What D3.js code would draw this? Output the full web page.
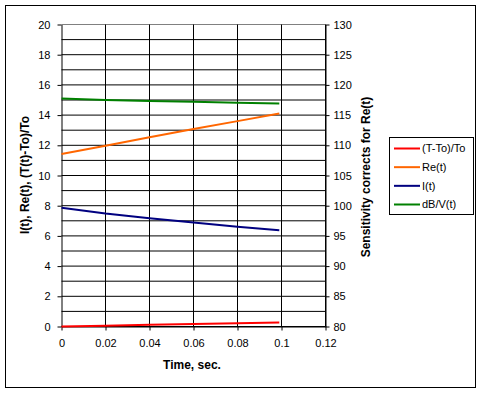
<!DOCTYPE html>
<html>
<head>
<meta charset="utf-8">
<script src="https://cdn.jsdelivr.net/npm/d3@7"></script>
<style>
  html, body { margin: 0; padding: 0; background: #fff; }
  svg { display: block; font-family: "Liberation Sans", Arial, sans-serif; }
</style>
</head>
<body>
<svg id="chart" width="483" height="393"></svg>
<script>
// ---- Data ----
const time = [0, 0.02, 0.04, 0.06, 0.08, 0.099];
const tempRise = [0, 0.055, 0.11, 0.165, 0.22, 0.27];        // (T-To)/To, left axis
const resistance = [11.42, 11.97, 12.53, 13.08, 13.60, 14.10]; // Re(t), left axis
const current = [7.86, 7.48, 7.17, 6.89, 6.61, 6.38];         // I(t), left axis
const sensitivity = [117.75, 117.5, 117.33, 117.2, 117.05, 116.93]; // dB/V(t), right axis

const xTicks = [0, 0.02, 0.04, 0.06, 0.08, 0.1, 0.12];
const yLeftTicks = [0, 2, 4, 6, 8, 10, 12, 14, 16, 18, 20];
const yRightTicks = [80, 85, 90, 95, 100, 105, 110, 115, 120, 125, 130];
const gridValues = [0,1,2,3,4,5,6,7,8,9,10,11,12,13,14,15,16,17,18,19,20];

const seriesNames = ["(T-To)/To", "Re(t)", "I(t)", "dB/V(t)"];
const seriesColors = ["#FF0000", "#FF6600", "#000080", "#008000"];

const leftTitle = "I(t), Re(t), (T(t)-To)/To";
const rightTitle = "Sensitivity corrects for Re(t)";
const xTitle = "Time, sec.";

// ---- Layout ----
const svg = d3.select("#chart");
const L = 61.5, R = 325.5, T = 24.5, B = 326.5;

svg.append("rect").attr("width", 483).attr("height", 393).attr("fill", "#fff");
svg.append("rect").attr("x", 5.5).attr("y", 5.5).attr("width", 470).attr("height", 382)
  .attr("fill", "none").attr("stroke", "#000").attr("stroke-width", 1);

const x = d3.scaleLinear().domain([0, 0.12]).range([L, R]);
const yL = d3.scaleLinear().domain([0, 20]).range([B, T]);
const yR = d3.scaleLinear().domain([80, 130]).range([B, T]);

// gridlines
const grid = svg.append("g");
grid.selectAll("line.h").data(gridValues.filter(v => v < 20)).enter().append("line")
  .attr("x1", L).attr("x2", R).attr("y1", d => yL(d)).attr("y2", d => yL(d))
  .attr("stroke", "#000").attr("stroke-width", 1);
grid.append("line").attr("x1", L).attr("x2", R).attr("y1", yL(20)).attr("y2", yL(20))
  .attr("stroke", "#808080").attr("stroke-width", 1);
grid.selectAll("line.v").data(xTicks.slice(1)).enter().append("line")
  .attr("x1", d => x(d)).attr("x2", d => x(d)).attr("y1", T).attr("y2", B)
  .attr("stroke", "#000").attr("stroke-width", 1);

// axes
function styleAxis(g) {
  g.selectAll("path.domain").attr("stroke", "#000");
  g.selectAll(".tick line").attr("stroke", "#000");
  g.selectAll("text").attr("fill", "#000").attr("font-size", "11px")
    .attr("font-family", "\"Liberation Sans\", Arial, sans-serif");
}
svg.append("g").attr("transform", `translate(${L},0)`)
  .call(d3.axisLeft(yL).tickValues(yLeftTicks).tickSize(4).tickSizeOuter(0).tickPadding(7).tickFormat(d => String(d)))
  .call(styleAxis);
svg.append("g").attr("transform", `translate(${R},0)`)
  .call(d3.axisRight(yR).tickValues(yRightTicks).tickSize(4).tickSizeOuter(0).tickPadding(4).tickFormat(d => String(d)))
  .call(styleAxis);
svg.append("g").attr("transform", `translate(0,${B})`)
  .call(d3.axisBottom(x).tickValues(xTicks).tickSize(4).tickSizeOuter(0).tickPadding(9).tickFormat(d => String(d)))
  .call(styleAxis);

// lines
const leftLine = d3.line().x((d, i) => x(time[i])).y(d => yL(d));
const rightLine = d3.line().x((d, i) => x(time[i])).y(d => yR(d));
const seriesData = [tempRise, resistance, current];
seriesData.forEach((s, k) => {
  svg.append("path").datum(s).attr("d", leftLine)
    .attr("fill", "none").attr("stroke", seriesColors[k]).attr("stroke-width", 2);
});
svg.append("path").datum(sensitivity).attr("d", rightLine)
  .attr("fill", "none").attr("stroke", seriesColors[3]).attr("stroke-width", 2);

// titles
svg.append("text").attr("x", 192).attr("y", 369).attr("text-anchor", "middle")
  .attr("font-size", "12px").attr("font-weight", "bold").text(xTitle);
svg.append("text").attr("transform", "translate(29,175) rotate(-90)").attr("text-anchor", "middle")
  .attr("font-size", "12px").attr("font-weight", "bold").text(leftTitle);
svg.append("text").attr("transform", "translate(370,177) rotate(-90)").attr("text-anchor", "middle")
  .attr("font-size", "12px").attr("font-weight", "bold").text(rightTitle);

// legend
const lg = svg.append("g");
lg.append("rect").attr("x", 389.5).attr("y", 137.5).attr("width", 84).attr("height", 77)
  .attr("fill", "#fff").attr("stroke", "#000").attr("stroke-width", 1);
const ly = d3.scaleLinear().domain([0, 3]).range([148.5, 204.5]);
seriesNames.forEach((name, i) => {
  lg.append("line").attr("x1", 394).attr("x2", 420).attr("y1", ly(i)).attr("y2", ly(i))
    .attr("stroke", seriesColors[i]).attr("stroke-width", 2);
  lg.append("text").attr("x", 422).attr("y", ly(i)).attr("dy", "0.35em")
    .attr("font-size", "11px").text(name);
});
</script>
</body>
</html>
